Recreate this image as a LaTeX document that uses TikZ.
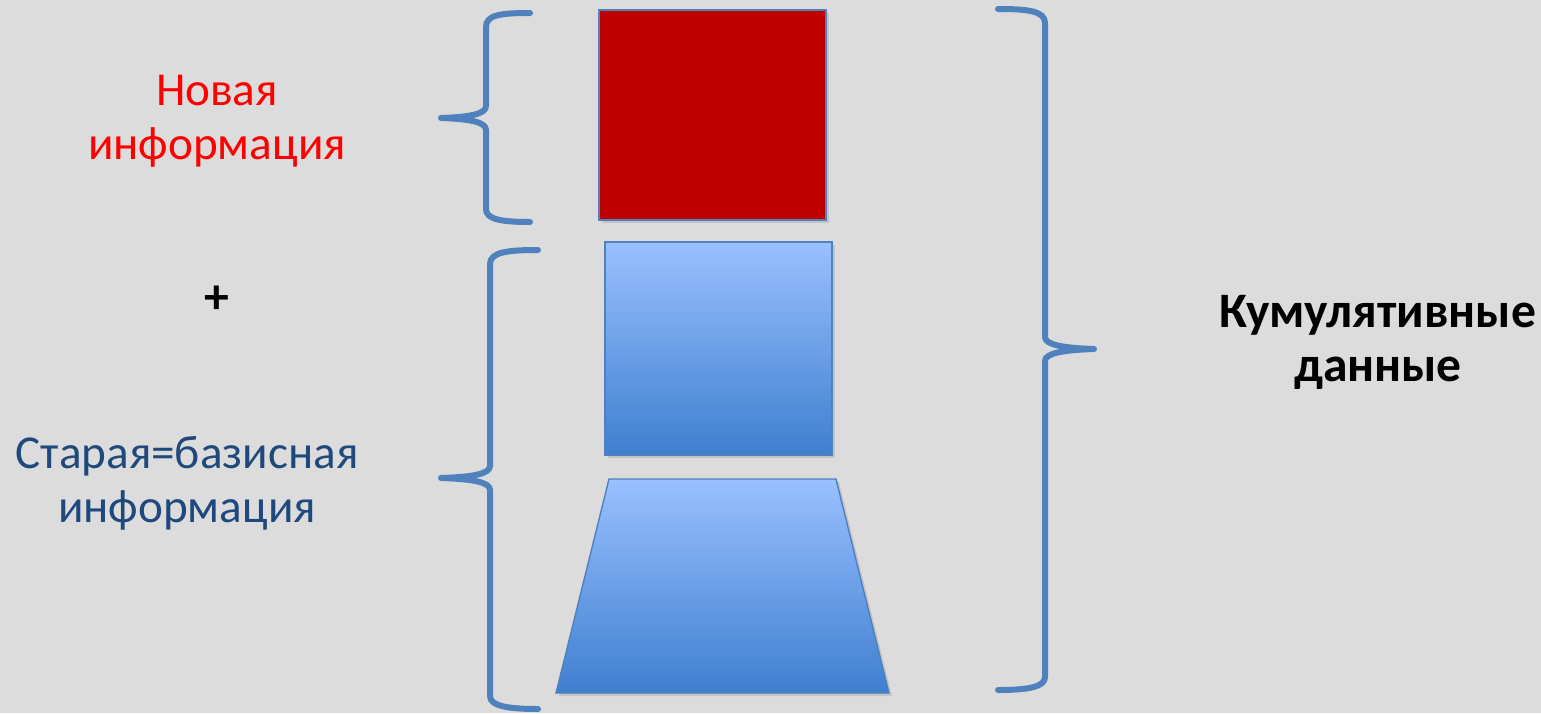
\documentclass[tikz,border=0pt]{standalone}
\usepackage{fontspec}
\setmainfont{Carlito}
\usepackage{xcolor}
\usepackage{tikz}
\usetikzlibrary{positioning,shadows}

\definecolor{bgGrey}{HTML}{DCDCDC}
\definecolor{braceBlue}{HTML}{4F81BD}
\definecolor{newRed}{HTML}{C00000}
\definecolor{oldTop}{HTML}{99C0FF}
\definecolor{oldBottom}{HTML}{3F7FCF}
\definecolor{oldText}{HTML}{1F497D}

\tikzset{
  brace line/.style={draw=braceBlue, line width=3pt, line cap=round, line join=round},
  block/.style={draw=braceBlue, line width=0.7pt,
    drop shadow={opacity=0.25, shadow xshift=1.5pt, shadow yshift=-1.5pt}},
  old block/.style={block, top color=oldTop, bottom color=oldBottom},
  label text/.style={font=\fontsize{23.6}{27}\selectfont, align=center, inner sep=0pt},
  bold text/.style={label text, font=\fontsize{24.8}{27}\selectfont\bfseries}
}

\begin{document}
\begin{tikzpicture}[x=0.5pt, y=-0.5pt]
        % background
        \fill[bgGrey] (0,0) rectangle (1541,713);
        \useasboundingbox (0,0) rectangle (1541,713);

        % New information block
        \draw[block, fill=newRed] (599,10) rectangle (826,220);

        % Old information blocks
        \draw[old block] (605,242) rectangle (832,455);
        \draw[old block] (609,479) -- (836,479) -- (889,693) -- (556,693) -- cycle;

        % Brace round the new block
        \draw[brace line] (530,13) .. controls (500,13) and (486,15) .. (486,27)
            -- (486,106) .. controls (486,114) and (470,117) .. (441,118)
            .. controls (470,119) and (486,122) .. (486,130)
            -- (486,209) .. controls (486,219) and (500,222) .. (530,222);

        % Brace round the old blocks
        \draw[brace line] (538,250) .. controls (508,250) and (490,252) .. (490,264)
            -- (490,466) .. controls (490,474) and (472,477) .. (441,478)
            .. controls (472,479) and (490,482) .. (490,490)
            -- (490,696) .. controls (490,706) and (508,709) .. (538,709);

        % Brace round everything
        \draw[brace line] (998,9) .. controls (1028,9) and (1045,11) .. (1045,23)
            -- (1045,337) .. controls (1045,345) and (1064,348) .. (1094,349)
            .. controls (1064,350) and (1045,353) .. (1045,361)
            -- (1045,677) .. controls (1045,687) and (1028,690) .. (998,690);

        % Labels (base = last line)
        \node[label text, text=red, anchor=base] (newInfo) at (217,159) {Новая\\информация};
        \node[bold text] (plusSign) at (217,300) {+};
        \node[label text, text=oldText, anchor=base] (oldInfo) at (187,522) {Старая=базисная\\информация};
        \node[bold text, anchor=base] (cumData) at (1378,381) {Кумулятивные\\данные};

    \end{tikzpicture}
\end{document}
